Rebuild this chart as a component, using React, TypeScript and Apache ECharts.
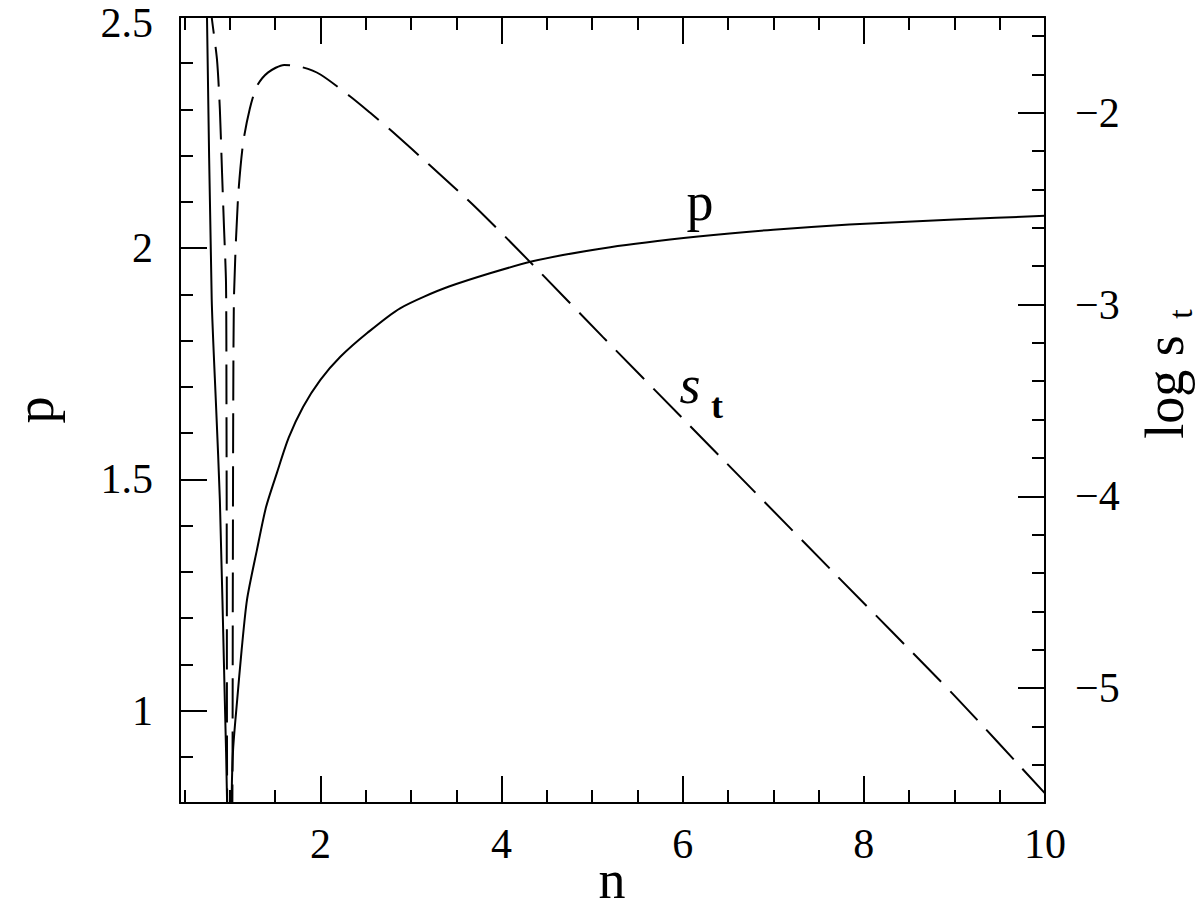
import React, { useEffect, useRef } from 'react';
import * as echarts from 'echarts';

// ---- data ----
// solid curve: p versus n (dips below the frame near n = 1)
const pN = [0.735, 0.748, 0.8, 0.85, 0.89, 0.945, 0.97, 1.0, 1.02, 1.036, 1.08, 1.13, 1.19, 1.3, 1.4, 1.52, 1.65, 1.81, 2.0, 2.22, 2.52, 2.88, 3.42, 4.33, 5.2, 6.17, 7.0, 7.84, 9.0, 10.0];
const pVal = [2.7, 2.5, 1.89, 1.65, 1.456, 1.02, 0.8, 0.0, 0.8, 0.915, 1.02, 1.13, 1.24, 1.348, 1.44, 1.514, 1.59, 1.657, 1.715, 1.765, 1.817, 1.87, 1.917, 1.971, 2.002, 2.025, 2.04, 2.051, 2.062, 2.07];

// dashed curve: log s_t versus n
const sN = [0.78, 0.8, 0.858, 0.89, 0.914, 0.936, 0.958, 0.963, 0.967, 0.971, 1.0, 1.028, 1.033, 1.038, 1.047, 1.09, 1.146, 1.22, 1.3, 1.42, 1.6, 1.8, 2.0, 2.33, 2.55, 2.8, 3.2, 3.73, 4.33, 5.12, 6.0, 7.63, 9.0, 10.0];
const sVal = [-1.38, -1.5, -1.72, -1.98, -2.31, -2.6, -2.89, -3.5, -4.5, -5.6, -7.0, -5.6, -4.5, -3.5, -2.94, -2.45, -2.16, -1.98, -1.86, -1.79, -1.75, -1.762, -1.8, -1.915, -2.0, -2.1, -2.27, -2.5, -2.785, -3.17, -3.594, -4.38, -5.04, -5.55];

// axis ranges and tick labels
const nRange = [0.45, 10];
const pRange = [0.8, 2.5];
const sRange = [-5.6, -1.5];
const nTicks = [2, 4, 6, 8, 10];
const pTicks = [1, 1.5, 2, 2.5];
const sTicks = [-5, -4, -3, -2];

const TICK_FONT = '"Liberation Serif", "Times New Roman", serif';
const NAME_FONT = '"Liberation Serif", "Times New Roman", serif';

function hasTick(list: number[], v: number) {
  return list.some((t) => Math.abs(t - v) < 1e-6);
}

function makeAxis(
  pos: string,
  range: number[],
  step: number,
  major: boolean,
  ticks: number[],
  fmt: (v: number) => string,
  margin: number
) {
  return {
    type: 'value',
    position: pos,
    min: range[0],
    max: range[1],
    minInterval: step,
    maxInterval: step,
    splitNumber: 5,
    axisLine: { show: major, onZero: false, lineStyle: { color: '#000', width: 2 } },
    axisTick: { show: true, inside: true, length: major ? 27 : 13, lineStyle: { color: '#000', width: 2 } },
    axisLabel: {
      show: major && ticks.length > 0,
      margin,
      fontFamily: TICK_FONT,
      fontSize: 42,
      lineHeight: 30,
      color: '#000',
      formatter: (v: number) => {
        if (!hasTick(ticks, v)) return '';
        // the label sitting on the top edge of the frame is nudged down a little
        if (Math.abs(v - range[1]) < 1e-6 && (pos === 'left' || pos === 'right')) return '{edge|' + fmt(v) + '}';
        return fmt(v);
      },
      rich: {
        edge: { fontFamily: TICK_FONT, fontSize: 42, lineHeight: 30, color: '#000', padding: [12, 0, 0, 0] },
      },
    },
    splitLine: { show: false },
    minorTick: { show: false },
    minorSplitLine: { show: false },
  };
}

export default function App() {
  const ref = useRef<HTMLDivElement>(null);
  useEffect(() => {
    if (!ref.current) return;
    const chart = echarts.init(ref.current, undefined, { renderer: 'svg' });
    const plain = (v: number) => String(v);
    const minusFmt = (v: number) => (v < 0 ? '\u2212' + String(Math.abs(v)) : String(v));
    chart.setOption({
      animation: false,
      backgroundColor: '#fff',
      grid: { left: 180, right: 155, top: 17, bottom: 107, containLabel: false, outerBoundsMode: 'none' },
      xAxis: [
        makeAxis('bottom', nRange, 2, true, nTicks, plain, 26),
        makeAxis('bottom', nRange, 0.5, false, [], plain, 26),
        makeAxis('top', nRange, 2, true, [], plain, 20),
        makeAxis('top', nRange, 0.5, false, [], plain, 20),
      ],
      yAxis: [
        makeAxis('left', pRange, 0.5, true, pTicks, plain, 27),
        makeAxis('left', pRange, 0.1, false, [], plain, 27),
        makeAxis('right', sRange, 1, true, sTicks, minusFmt, 30),
        makeAxis('right', sRange, 0.2, false, [], minusFmt, 30),
      ],
      series: [
        {
          type: 'line',
          name: 'p',
          xAxisIndex: 0,
          yAxisIndex: 0,
          data: pN.map((n, i) => [n, pVal[i]]),
          showSymbol: false,
          symbol: 'none',
          clip: true,
          silent: true,
          smooth: 0.25,
          lineStyle: { color: '#000', width: 2 },
        },
        {
          type: 'line',
          name: 'log s_t',
          xAxisIndex: 0,
          yAxisIndex: 2,
          data: sN.map((n, i) => [n, sVal[i]]),
          showSymbol: false,
          symbol: 'none',
          clip: true,
          silent: true,
          smooth: 0.25,
          lineStyle: { color: '#000', width: 2, type: [40, 13] },
        },
      ],
      graphic: [
        {
          type: 'text',
          x: 612,
          y: 880,
          style: { text: 'n', fontFamily: NAME_FONT, fontSize: 54, fill: '#000', align: 'center', verticalAlign: 'middle' },
        },
        {
          type: 'text',
          x: 35,
          y: 410,
          rotation: Math.PI / 2,
          style: { text: 'p', fontFamily: NAME_FONT, fontSize: 54, fill: '#000', align: 'center', verticalAlign: 'middle' },
        },
        {
          type: 'text',
          x: 1165,
          y: 387,
          rotation: Math.PI / 2,
          style: { text: 'log s', fontFamily: NAME_FONT, fontSize: 54, fill: '#000', align: 'center', verticalAlign: 'middle' },
        },
        {
          type: 'text',
          x: 1180,
          y: 314,
          rotation: Math.PI / 2,
          style: { text: 't', fontFamily: NAME_FONT, fontSize: 34, fill: '#000', align: 'center', verticalAlign: 'middle' },
        },
        {
          type: 'text',
          x: 700,
          y: 202,
          style: { text: 'p', fontFamily: NAME_FONT, fontSize: 54, fill: '#000', align: 'center', verticalAlign: 'middle' },
        },
        {
          type: 'text',
          x: 690,
          y: 385,
          style: { text: 's', fontFamily: NAME_FONT, fontSize: 54, fontStyle: 'italic', fill: '#000', align: 'center', verticalAlign: 'middle' },
        },
        {
          type: 'text',
          x: 717,
          y: 406,
          style: { text: 't', fontFamily: NAME_FONT, fontSize: 36, fontWeight: 'bold', fill: '#000', align: 'center', verticalAlign: 'middle' },
        },
      ],
    });
    return () => chart.dispose();
  }, []);
  return <div ref={ref} style={{ position: 'absolute', left: 0, top: 0, width: 1200, height: 910 }} />;
}
